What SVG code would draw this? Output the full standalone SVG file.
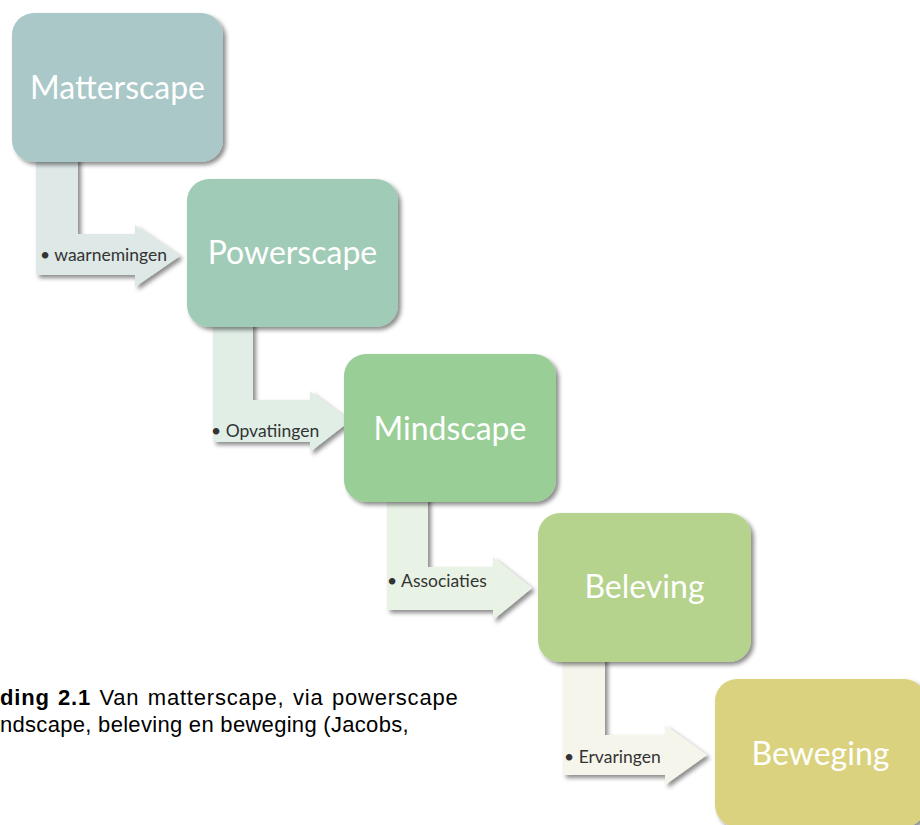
<svg xmlns="http://www.w3.org/2000/svg" width="920" height="825" viewBox="0 0 920 825">
<style>
.title{font-family:Lato,"Open Sans",sans-serif;font-size:32px;fill:#ffffff;text-anchor:middle}
.lbl{font-family:Lato,"Open Sans",sans-serif;font-size:17.5px;fill:#333333}
.cap{font-family:"Liberation Sans",Arial,sans-serif;font-size:22px;fill:#000000;letter-spacing:0.3px}
.capb{font-weight:bold}
</style>
<defs>
<filter id="sh" x="-10%" y="-10%" width="125%" height="125%">
<feDropShadow dx="3" dy="3" stdDeviation="2" flood-color="#000000" flood-opacity="0.45"/>
</filter>
</defs>
<rect width="920" height="825" fill="#ffffff"/>
<g id="connectors" filter="url(#sh)">
<path id="c1" d="M36,150 L78,150 L78,234 L135,234 L135,225 L180,256 L135,287 L135,275 L36,275 Z" fill="#dde8e7"/>
<path id="c2" d="M213,315 L253,315 L253,400 L310,400 L310,391 L350,421 L310,452 L310,442 L213,442 Z" fill="#e0eee6"/>
<path id="c3" d="M387,490 L428,490 L428,567 L493,567 L493,557 L532,588 L493,620 L493,610 L387,610 Z" fill="#e9f3e5"/>
<path id="c4" d="M563,650 L605,650 L605,735 L665,735 L665,725 L707,755 L665,785 L665,775 L563,775 Z" fill="#f5f5ec"/>
</g>
<g id="labels">
<text class="lbl" x="40" y="261">• waarnemingen</text>
<text class="lbl" x="211" y="437">• Opvatiingen</text>
<text class="lbl" x="387" y="587">• Associaties</text>
<text class="lbl" x="564" y="763">• Ervaringen</text>
</g>
<g id="n1"><rect x="12" y="13" width="211" height="149" rx="22" fill="#aac8c8" filter="url(#sh)"/><text class="title" x="117.5" y="99">Matterscape</text></g>
<g id="n2"><rect x="187" y="179" width="211" height="148" rx="22" fill="#a0cbb6" filter="url(#sh)"/><text class="title" x="292.5" y="264">Powerscape</text></g>
<g id="n3"><rect x="344" y="354" width="212" height="148" rx="22" fill="#99ce97" filter="url(#sh)"/><text class="title" x="450" y="440">Mindscape</text></g>
<g id="n4"><rect x="538" y="513" width="213" height="149" rx="22" fill="#b5d38d" filter="url(#sh)"/><text class="title" x="644.5" y="598">Beleving</text></g>
<g id="n5"><rect x="715" y="679" width="211" height="148" rx="22" fill="#dad27e" filter="url(#sh)"/><text class="title" x="820.5" y="765">Beweging</text></g>
<g id="caption">
<text class="cap" x="0" y="705" style="letter-spacing:0.8px" word-spacing="1.5"><tspan class="capb">ding 2.1</tspan> Van matterscape, via powerscape</text>
<text class="cap" x="0" y="732">ndscape, beleving en beweging (Jacobs,</text>
</g>
</svg>
